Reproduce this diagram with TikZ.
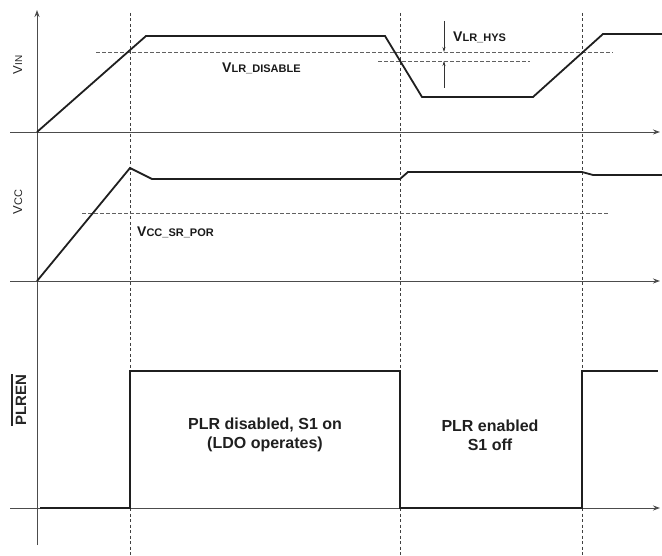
\documentclass[tikz,border=0pt]{standalone}
\usepackage{fontspec}
\setmainfont{Liberation Sans}
\newfontfamily\lblfont{Liberation Sans Bold}
\usetikzlibrary{arrows.meta}
\begin{document}
\begin{tikzpicture}[x=1pt,y=-1pt,
  axis/.style={draw=black!70, line width=0.9pt, -{Stealth[length=7pt,width=5pt]}},
  wave/.style={draw=black!88, line width=1.8pt, line join=miter},
  thr/.style={draw=black!62, line width=0.8pt, dash pattern=on 3.5pt off 2.5pt},
  vmark/.style={draw=black!75, line width=0.8pt, dash pattern=on 3pt off 2.5pt},
  hysarrow/.style={draw=black!80, line width=0.6pt, -{Stealth[length=5pt,width=3pt]}},
  lbl/.style={inner sep=0pt, text=black!90},
  ylbl/.style={inner sep=0pt, text=black!85, rotate=90, anchor=base},
  body/.style={inner sep=0pt, align=center, text=black!88, font=\bfseries\fontsize{16}{19}\selectfont},
]
\useasboundingbox (0,0) rectangle (662,556);

% axes
\coordinate (ytop) at (37,10);
\coordinate (ybot) at (37,545);
\coordinate (a1s) at (10,132);  \coordinate (a1e) at (660,132);
\coordinate (a2s) at (10,281);  \coordinate (a2e) at (660,281);
\coordinate (a3s) at (10,508);  \coordinate (a3e) at (660,508);
\draw[axis] (ybot) -- (ytop);
\draw[axis] (a1s) -- (a1e);
\draw[axis] (a2s) -- (a2e);
\draw[axis] (a3s) -- (a3e);

% vertical time markers
\coordinate (m1t) at (130,13); \coordinate (m1b) at (130,556);
\coordinate (m2t) at (400,13); \coordinate (m2b) at (400,556);
\coordinate (m3t) at (582,13); \coordinate (m3b) at (582,556);
\draw[vmark] (m1t) -- (m1b);
\draw[vmark] (m2t) -- (m2b);
\draw[vmark] (m3t) -- (m3b);

% threshold lines
\coordinate (t1s) at (96,52);  \coordinate (t1e) at (613,52);
\coordinate (t2s) at (378,61); \coordinate (t2e) at (530,61);
\coordinate (t3s) at (82,213); \coordinate (t3e) at (609,213);
\draw[thr] (t1s) -- (t1e);
\draw[thr] (t2s) -- (t2e);
\draw[thr] (t3s) -- (t3e);

% VIN waveform
\draw[wave] (37,132) -- (146,36) -- (385,36) -- (422,97) -- (533,97) -- (603,34) -- (662,34);
% VCC waveform
\draw[wave] (37,281) -- (130,168) -- (152,179) -- (400,179) -- (408,172) -- (582,172) -- (593,175) -- (662,175);
% PLREN waveform
\draw[wave] (40,508) -- (130,508) -- (130,371) -- (400,371) -- (400,508) -- (582,508) -- (582,371) -- (658,371);

% hysteresis arrows
\coordinate (h1s) at (444,21); \coordinate (h1e) at (444,52);
\coordinate (h2s) at (444,88); \coordinate (h2e) at (444,61);
\draw[hysarrow] (h1s) -- (h1e);
\draw[hysarrow] (h2s) -- (h2e);

% labels
\node[lbl, anchor=base west] (vlrdis) at (222,73) {\lblfont\fontsize{14}{14}\selectfont V\fontsize{11}{12}\selectfont LR\_DISABLE};
\node[lbl, anchor=base west] (vlrhys) at (453,42) {\lblfont\fontsize{14}{14}\selectfont V\fontsize{11}{12}\selectfont LR\_HYS};
\node[lbl, anchor=base west] (vccpor) at (137,237) {\lblfont\fontsize{14}{14}\selectfont V\fontsize{11}{12}\selectfont CC\_SR\_POR};

\node[ylbl] (vin) at (22,65) {\fontsize{13}{14}\selectfont V\fontsize{10}{12}\selectfont IN};
\node[ylbl] (vcc) at (22,202) {\fontsize{13}{14}\selectfont V\fontsize{11}{12}\selectfont CC};
\node[ylbl, font=\bfseries\fontsize{15}{16}\selectfont] (plren) at (26,400) {PLREN};
\draw[black!85, line width=1.3pt] ([xshift=-3.5pt]plren.north west) -- ([xshift=-3.5pt]plren.north east);

\node[body] (dis) at (265,435) {PLR disabled, S1 on\\(LDO operates)};
\node[body] (ena) at (490,435) {PLR enabled\\S1 off};
\end{tikzpicture}
\end{document}
